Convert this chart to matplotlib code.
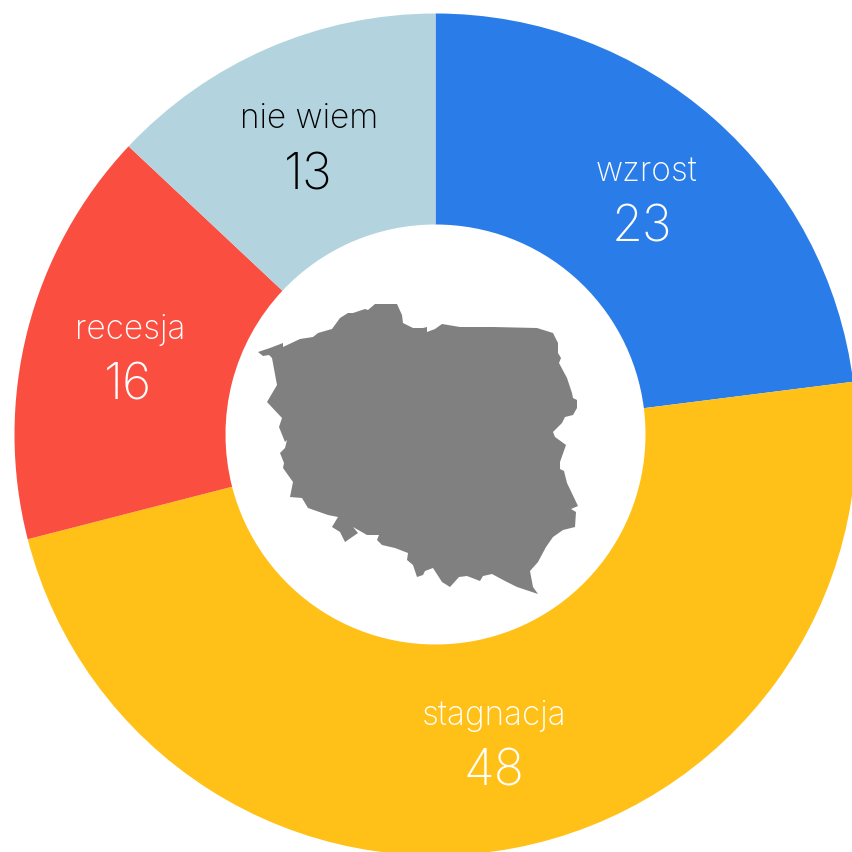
import matplotlib
matplotlib.use("Agg")
import matplotlib.pyplot as plt
from matplotlib.patches import Polygon

categories = ["wzrost", "stagnacja", "recesja", "nie wiem"]
values = [23, 48, 16, 13]
colors = ["#2A7DE8", "#FFC017", "#F94E40", "#B3D4DF"]
text_colors = ["white", "white", "white", "black"]
label_xy = [(647, 172), (494, 716), (130, 330), (309, 119)]
value_xy = [(642, 228), (494, 772), (128, 386), (308, 176)]

map_outline = [
    (258,352),(270,348),(283,343),(283,347),(300,339),(313,337),(318,333),(332,329),
    (340,318),(348,313),(353,313),(365,309),(368,310),(375,304),(397,304),(402,315),
    (403,323),(413,328),(423,328),(427,327),(427,332),(435,329),(442,324),(460,327),
    (493,327),(537,328),(553,333),(558,343),(558,353),(561,358),(559,363),(567,378),
    (572,393),(573,398),(577,400),(577,408),(573,415),(565,417),(562,423),(553,432),
    (555,437),(566,445),(560,462),(560,469),(564,471),(567,483),(578,506),(571,509),
    (576,512),(575,527),(563,530),(553,537),(546,547),(538,562),(530,571),(533,587),
    (538,594),(517,587),(505,581),(492,574),(483,576),(480,581),(467,576),(459,577),
    (450,587),(442,582),(433,568),(425,571),(423,575),(417,577),(413,565),(407,560),
    (408,553),(395,548),(382,545),(377,540),(379,535),(367,535),(353,527),(358,533),
    (345,542),(340,532),(332,527),(338,517),(328,515),(308,508),(302,498),(290,497),
    (293,482),(283,468),(284,463),(280,453),(285,448),(287,440),(285,442),(279,427),
    (282,418),(267,402),(277,385),(272,358),(269,355),(263,356),
]

W, H = 853, 852
plt.rcParams["font.family"] = ["Inter", "DejaVu Sans"]
fig = plt.figure(figsize=(W / 100, H / 100), dpi=100)
ax = fig.add_axes([0, 0, 1, 1])

ax.pie(values, colors=colors, startangle=90, counterclock=False,
       center=(435.5, H - 434.5), radius=421,
       wedgeprops=dict(width=211, linewidth=0))
ax.set_xlim(0, W)
ax.set_ylim(0, H)
ax.set_aspect("equal")
ax.axis("off")

ax.add_patch(Polygon([(x, H - y) for x, y in map_outline], closed=True,
                     facecolor="#808080", edgecolor="none"))

for cat, val, col, lxy, vxy in zip(categories, values, text_colors, label_xy, value_xy):
    ax.text(lxy[0], H - lxy[1], cat, color=col, fontsize=24, ha="center", va="center",
            fontweight="light")
    ax.text(vxy[0], H - vxy[1], str(val), color=col, fontsize=36, ha="center", va="center",
            fontweight="light")

fig.savefig("out.png", dpi=100)
